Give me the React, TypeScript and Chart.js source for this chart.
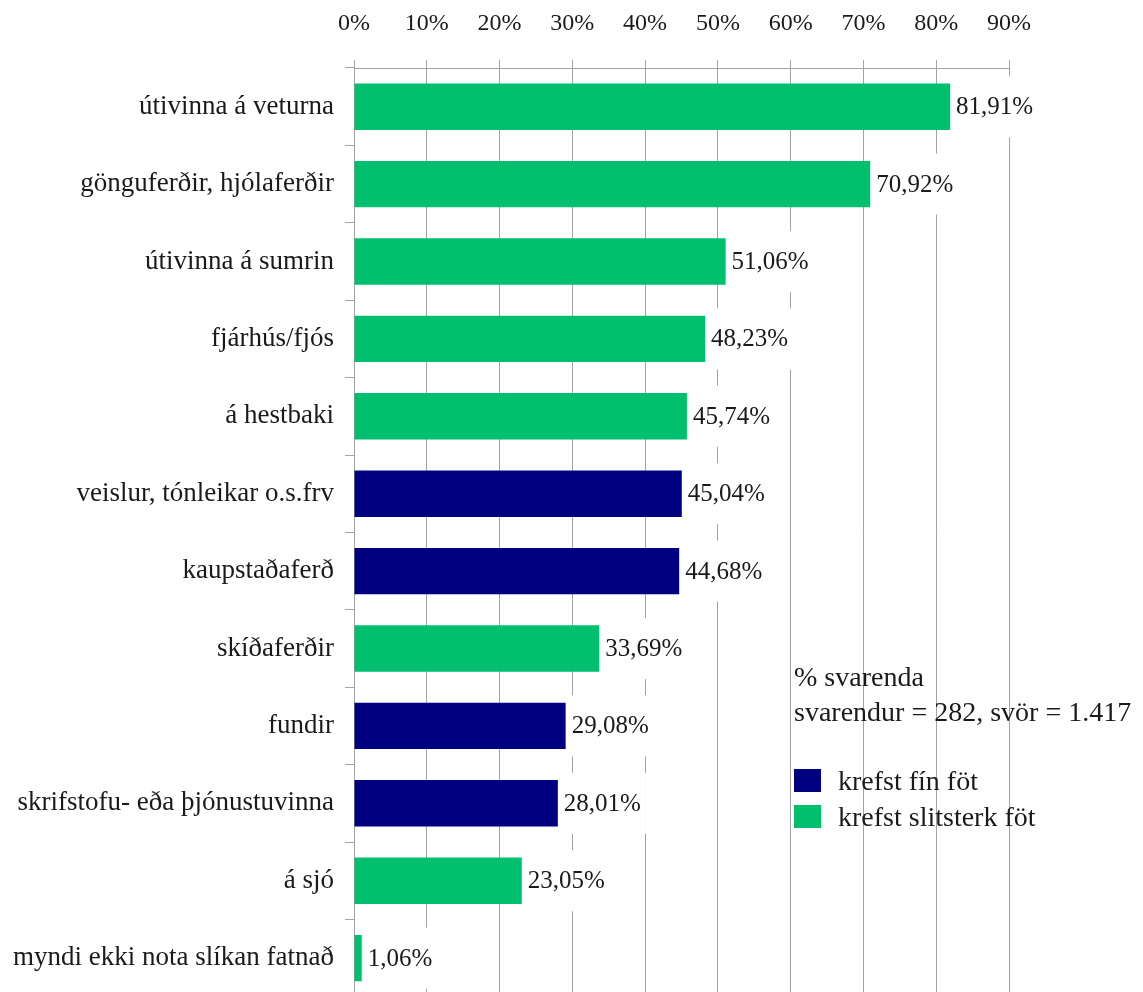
import React, { useEffect, useRef } from "react";
import { Chart, registerables } from "chart.js";

Chart.register(...registerables);

const categories = [
  "útivinna á veturna",
  "gönguferðir, hjólaferðir",
  "útivinna á sumrin",
  "fjárhús/fjós",
  "á hestbaki",
  "veislur, tónleikar o.s.frv",
  "kaupstaðaferð",
  "skíðaferðir",
  "fundir",
  "skrifstofu- eða þjónustuvinna",
  "á sjó",
  "myndi ekki nota slíkan fatnað",
];

const values = [81.91, 70.92, 51.06, 48.23, 45.74, 45.04, 44.68, 33.69, 29.08, 28.01, 23.05, 1.06];

const groups = ["slit", "slit", "slit", "slit", "slit", "fin", "fin", "slit", "fin", "fin", "slit", "slit"];

const seriesKeys = ["fin", "slit"];
const seriesNames = ["krefst fín föt", "krefst slitsterk föt"];
const seriesColors = ["#000080", "#00BF6F"];

const xTickValues = [0, 10, 20, 30, 40, 50, 60, 70, 80, 90];

const noteLines = ["% svarenda", "svarendur = 282, svör = 1.417"];

const FONT = "'Liberation Serif', 'Times New Roman', serif";
const TEXT = "#1a1a1a";
const GRID = "#a3a3a3";

const fmt = (v: number) => v.toFixed(2).replace(".", ",") + "%";

const dataLabelPlugin = {
  id: "dataLabels",
  afterDatasetsDraw(chart: any) {
    const ctx = chart.ctx;
    ctx.save();
    ctx.font = `25px ${FONT}`;
    ctx.textBaseline = "middle";
    ctx.textAlign = "left";
    chart.data.datasets.forEach((ds: any, di: number) => {
      const meta = chart.getDatasetMeta(di);
      meta.data.forEach((el: any, i: number) => {
        const v = ds.data[i];
        if (v == null) return;
        const { x, y } = el.getProps(["x", "y"], true);
        const text = fmt(v);
        const w = ctx.measureText(text).width;
        ctx.fillStyle = "#ffffff";
        ctx.fillRect(x + 1, y - 30.5, w + 10, 61);
        ctx.fillStyle = TEXT;
        ctx.fillText(text, x + 6, y + 1);
      });
    });
    ctx.restore();
  },
};

const legendPlugin = {
  id: "customLegend",
  afterDraw(chart: any) {
    const ctx = chart.ctx;
    ctx.save();
    ctx.fillStyle = TEXT;
    ctx.font = `28px ${FONT}`;
    ctx.textBaseline = "alphabetic";
    ctx.textAlign = "left";
    const x0 = 794;
    noteLines.forEach((line, i) => {
      ctx.fillText(line, x0, 686 + i * 35);
    });
    chart.data.datasets.forEach((ds: any, i: number) => {
      const top = 769 + i * 36;
      ctx.fillStyle = ds.backgroundColor;
      ctx.fillRect(x0, top, 27, 23);
      ctx.fillStyle = TEXT;
      ctx.fillText(ds.label, 838, top + 21);
    });
    ctx.restore();
  },
};

export default function App() {
  const canvasRef = useRef<HTMLCanvasElement | null>(null);

  useEffect(() => {
    document.body.style.margin = "0";
    const canvas = canvasRef.current;
    if (!canvas) return;

    const datasets = seriesKeys.map((key, si) => ({
      label: seriesNames[si],
      data: values.map((v, i) => (groups[i] === key ? v : null)),
      backgroundColor: seriesColors[si],
      borderWidth: 0,
      grouped: false,
      barPercentage: 0.6,
      categoryPercentage: 1,
    }));

    const chart = new Chart(canvas, {
      type: "bar",
      data: { labels: categories, datasets },
      options: {
        indexAxis: "y",
        animation: false,
        responsive: false,
        maintainAspectRatio: false,
        layout: { padding: { left: 0, right: 134, top: 0, bottom: 4 } },
        plugins: {
          legend: { display: false },
          tooltip: { enabled: false },
        },
        scales: {
          x: {
            position: "top",
            min: 0,
            max: 90,
            afterBuildTicks: (scale: any) => {
              scale.ticks = xTickValues.map((v) => ({ value: v }));
            },
            afterFit: (scale: any) => {
              scale.height = 68;
            },
            ticks: {
              callback: (v: any) => v + "%",
              font: { family: FONT, size: 24 },
              color: TEXT,
              padding: 22,
              maxRotation: 0,
              autoSkip: false,
            },
            grid: {
              color: GRID,
              tickLength: 8,
              lineWidth: 1,
            },
            border: { display: true, color: GRID, width: 1 },
          },
          y: {
            afterFit: (scale: any) => {
              scale.width = 354;
            },
            ticks: {
              font: { family: FONT, size: 27 },
              color: TEXT,
              padding: 11,
              autoSkip: false,
            },
            grid: {
              offset: true,
              drawOnChartArea: false,
              color: GRID,
              tickLength: 9,
            },
            border: { display: true, color: GRID, width: 1 },
          },
        },
      },
      plugins: [dataLabelPlugin, legendPlugin],
    } as any);

    return () => chart.destroy();
  }, []);

  return (
    <div style={{ width: 1143, height: 992, overflow: "hidden", background: "#fff" }}>
      <canvas ref={canvasRef} width={1143} height={1024} style={{ display: "block" }} />
    </div>
  );
}
